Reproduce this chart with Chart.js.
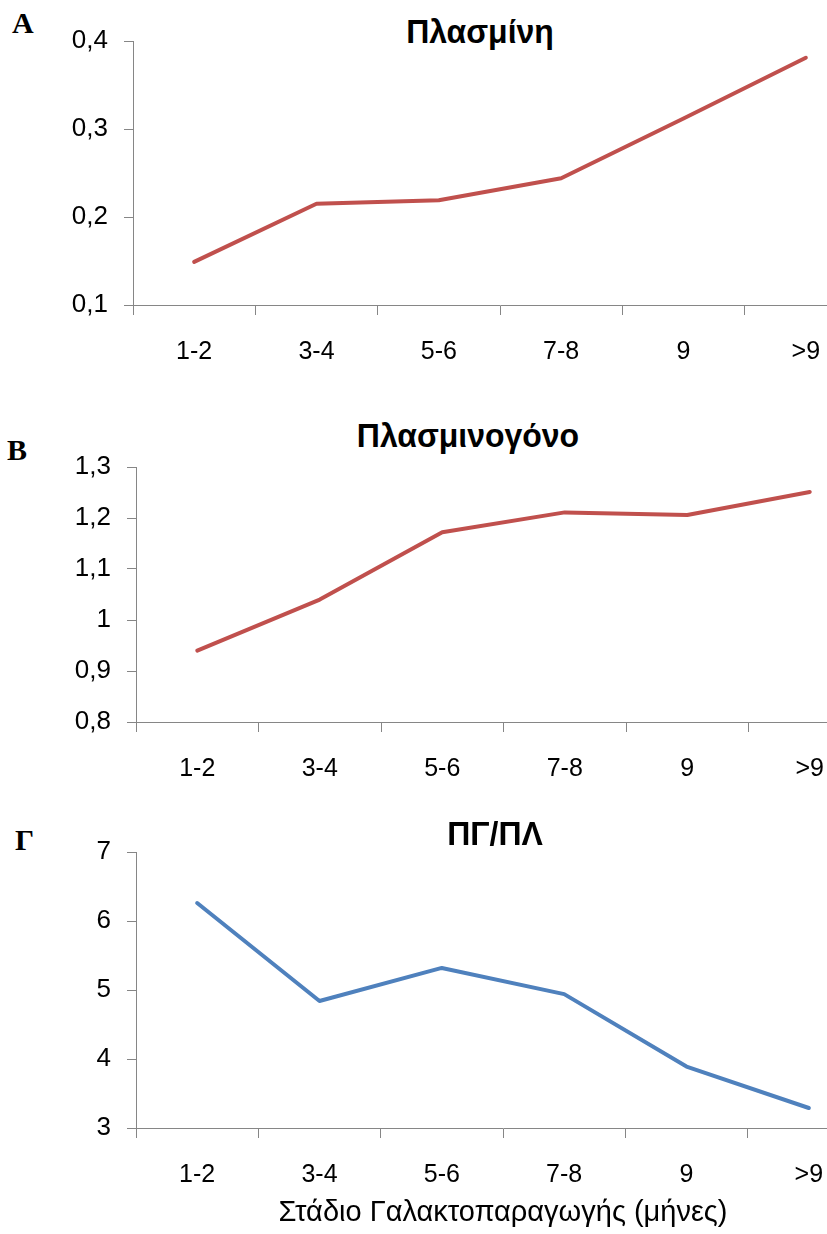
<!DOCTYPE html>
<html>
<head>
<meta charset="utf-8">
<script src="https://cdn.jsdelivr.net/npm/chart.js@4.4.1/dist/chart.umd.min.js"></script>
<style>
  html, body { margin: 0; padding: 0; background: #fff; }
  body { width: 827px; height: 1234px; overflow: hidden; position: relative; }
  .box { position: absolute; left: 0; width: 880px; }
  .letter { position: absolute; font: bold 30px "Liberation Serif", "Times New Roman", serif; line-height: 1; color: #000; }
  .title { position: absolute; font: bold 34px "Liberation Sans", Arial, sans-serif; line-height: 1; color: #000;
           white-space: nowrap; transform: translateX(-50%) scaleX(0.94); }
</style>
</head>
<body>

<div class="letter" style="left:12px; top:8px;">A</div>
<div class="title" style="left:480px; top:14px;">Πλασμίνη</div>
<div class="box" style="top:0px; height:400px;"><canvas id="chartA"></canvas></div>

<div class="letter" style="left:7px; top:435px;">B</div>
<div class="title" style="left:468px; top:418px;">Πλασμινογόνο</div>
<div class="box" style="top:420px; height:400px;"><canvas id="chartB"></canvas></div>

<div class="letter" style="left:15px; top:825px;">Γ</div>
<div class="title" style="left:495px; top:816px;">ΠΓ/ΠΛ</div>
<div class="box" style="top:820px; height:414px;"><canvas id="chartC"></canvas></div>

<script>
var stages = ["1-2", "3-4", "5-6", "7-8", "9", ">9"];

var plasmin = [0.149, 0.215, 0.219, 0.244, 0.312, 0.381];
var plasminogen = [0.940, 1.040, 1.172, 1.211, 1.206, 1.251];
var ratio = [6.26, 4.84, 5.32, 4.94, 3.89, 3.29];

var plasminTicks = ["0,1", "0,2", "0,3", "0,4"];
var plasminogenTicks = ["0,8", "0,9", "1", "1,1", "1,2", "1,3"];
var ratioTicks = ["3", "4", "5", "6", "7"];

var xTitle = "Στάδιο Γαλακτοπαραγωγής (μήνες)";

Chart.defaults.font.family = "'Liberation Sans', Arial, sans-serif";
Chart.defaults.color = "#000";

var axisGray = "#868686";

function lineChart(id, values, color, yMin, yMax, step, yLabels, box) {
  return new Chart(id, {
    type: "line",
    data: {
      labels: stages,
      datasets: [{
        data: values,
        borderColor: color,
        backgroundColor: color,
        borderWidth: 4,
        pointRadius: 0,
        tension: 0,
        borderJoinStyle: "round",
        borderCapStyle: "round"
      }]
    },
    options: {
      responsive: true,
      maintainAspectRatio: false,
      animation: false,
      layout: { padding: { top: box.top, right: box.right, left: 0, bottom: 0 } },
      plugins: { legend: { display: false }, tooltip: { enabled: false } },
      scales: {
        x: {
          offset: true,
          grid: { display: true, drawOnChartArea: false, drawTicks: true, tickLength: 10, color: axisGray, offset: true },
          border: { color: axisGray, width: 1 },
          ticks: { font: { size: 25 }, padding: 22, maxRotation: 0 },
          title: box.title ? { display: true, text: box.title, font: { size: 29 }, padding: { top: 0, bottom: 4 } } : { display: false },
          afterFit: function (scale) { scale.height = box.xh; }
        },
        y: {
          min: yMin,
          max: yMax,
          grid: { display: true, drawOnChartArea: false, drawTicks: true, tickLength: 9, color: axisGray },
          border: { color: axisGray, width: 1 },
          ticks: {
            stepSize: step,
            font: { size: 26 },
            padding: 16,
            callback: function (value, index) { return yLabels[index]; }
          },
          afterFit: function (scale) { scale.width = box.yw; }
        }
      }
    }
  });
}

lineChart("chartA", plasmin, "#C0504D", 0.1, 0.4, 0.1, plasminTicks,
  { top: 41, right: 13, yw: 133, xh: 95 });

lineChart("chartB", plasminogen, "#C0504D", 0.8, 1.3, 0.1, plasminogenTicks,
  { top: 47, right: 9, yw: 136, xh: 98 });

lineChart("chartC", ratio, "#4F81BD", 3, 7, 1, ratioTicks,
  { top: 32, right: 10, yw: 136, xh: 106, title: xTitle });
</script>
</body>
</html>
